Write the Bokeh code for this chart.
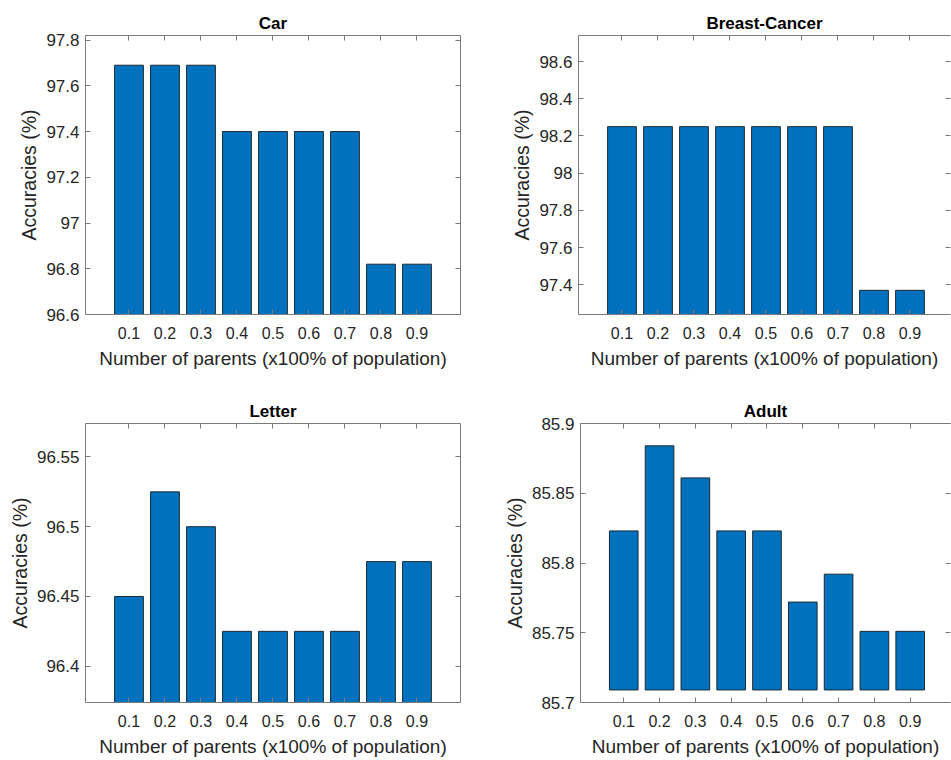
from bokeh.plotting import figure
from bokeh.models import Range1d, FixedTicker, LinearAxis, CustomJSTickFormatter
from bokeh.layouts import column, row
from bokeh.embed import file_html
from bokeh.resources import INLINE

# ---- data ----
parents = [0.1, 0.2, 0.3, 0.4, 0.5, 0.6, 0.7, 0.8, 0.9]
x_label = "Number of parents (x100% of population)"
y_label = "Accuracies (%)"

car_title = "Car"
car_acc = [97.69, 97.69, 97.69, 97.40, 97.40, 97.40, 97.40, 96.82, 96.82]
car_yrange = [96.6, 97.82]
car_yticks = [96.6, 96.8, 97.0, 97.2, 97.4, 97.6, 97.8]
car_base = 96.6

bc_title = "Breast-Cancer"
bc_acc = [98.25, 98.25, 98.25, 98.25, 98.25, 98.25, 98.25, 97.37, 97.37]
bc_yrange = [97.24, 98.74]
bc_yticks = [97.4, 97.6, 97.8, 98.0, 98.2, 98.4, 98.6]
bc_base = 97.24

letter_title = "Letter"
letter_acc = [96.45, 96.525, 96.50, 96.425, 96.425, 96.425, 96.425, 96.475, 96.475]
letter_yrange = [96.374, 96.574]
letter_yticks = [96.4, 96.45, 96.5, 96.55]
letter_base = 96.374

adult_title = "Adult"
adult_acc = [85.823, 85.884, 85.861, 85.823, 85.823, 85.772, 85.792, 85.751, 85.751]
adult_yrange = [85.7, 85.9]
adult_yticks = [85.7, 85.75, 85.8, 85.85, 85.9]
adult_base = 85.709

# ---- style ----
FONT = "Liberation Sans"
BOX = "#7a7a7a"
TXT = "#262626"
BAR = "#0072BD"
X_START = -0.0208
PX_PER_UNIT = 360.0

fmt_code = "return Number(tick.toFixed(3)).toString();"
blank_code = "return '';"


def make(title, acc, yrange, yticks, base, width, height, mb, right_col):
    left, right, top, bottom = mb
    frame_w = width - left - right
    x_end = X_START + frame_w / PX_PER_UNIT
    p = figure(width=width, height=height,
               x_range=Range1d(X_START, x_end), y_range=Range1d(*yrange),
               output_backend="svg", toolbar_location=None, tools="",
               min_border_left=left, min_border_right=right,
               min_border_top=top, min_border_bottom=bottom,
               x_axis_label=x_label, y_axis_label=y_label)
    p.outline_line_color = None
    p.xgrid.visible = False
    p.ygrid.visible = False
    p.background_fill_color = "white"
    p.border_fill_color = "white"

    p.vbar(x=parents, top=acc, bottom=base, width=0.08,
           fill_color=BAR, line_color="#1e2a33", line_width=1)

    # bottom axis
    xa = p.xaxis[0]
    xa.ticker = FixedTicker(ticks=parents)
    xa.formatter = CustomJSTickFormatter(code=fmt_code)
    xa.major_label_text_font = FONT
    xa.major_label_text_font_size = "16px"
    xa.major_label_text_color = TXT
    xa.major_label_standoff = 12
    xa.axis_label_text_font = FONT
    xa.axis_label_text_font_size = "19px"
    xa.axis_label_text_font_style = "normal"
    xa.axis_label_text_color = TXT
    xa.axis_label_standoff = 6
    # left axis
    ya = p.yaxis[0]
    ya.ticker = FixedTicker(ticks=yticks)
    ya.formatter = CustomJSTickFormatter(code=fmt_code)
    ya.major_label_text_font = FONT
    ya.major_label_text_font_size = "17px"
    ya.major_label_text_color = TXT
    ya.major_label_standoff = 6
    ya.axis_label_text_font = FONT
    ya.axis_label_text_font_size = "19.5px"
    ya.axis_label_text_font_style = "normal"
    ya.axis_label_text_color = TXT
    ya.axis_label_standoff = 3

    for ax in (xa, ya):
        ax.axis_line_color = BOX
        ax.axis_line_width = 1
        ax.major_tick_line_color = BOX
        ax.major_tick_in = 5
        ax.major_tick_out = 0
        ax.minor_tick_line_color = None

    top_ax = LinearAxis(ticker=FixedTicker(ticks=parents),
                        formatter=CustomJSTickFormatter(code=blank_code),
                        major_label_text_font_size="1px", major_label_standoff=0,
                        major_tick_in=5, major_tick_out=0,
                        minor_tick_line_color=None,
                        axis_line_color=BOX, major_tick_line_color=BOX)
    p.add_layout(top_ax, "above")
    right_ax = LinearAxis(ticker=FixedTicker(ticks=yticks),
                          formatter=CustomJSTickFormatter(code=blank_code),
                          major_label_text_font_size="1px", major_label_standoff=0,
                          major_tick_in=5, major_tick_out=0,
                          minor_tick_line_color=None,
                          axis_line_color=None if right_col else BOX,
                          major_tick_line_color=BOX)
    p.add_layout(right_ax, "right")

    p.title.text = title
    p.title.align = "center"
    p.title.text_font = FONT
    p.title.text_font_size = "17px"
    p.title.text_font_style = "bold"
    p.title.text_color = "black"
    p.title.standoff = 6
    return p


LW, RW = 500, 451
TH, BH = 380, 380

p1 = make(car_title, car_acc, car_yrange, car_yticks, car_base, LW, TH, (85, 40, 35, 66), False)
p2 = make(bc_title, bc_acc, bc_yrange, bc_yticks, bc_base, RW, TH, (78, 1, 35, 66), True)
p3 = make(letter_title, letter_acc, letter_yrange, letter_yticks, letter_base, LW, BH, (85, 40, 43, 58), False)
p4 = make(adult_title, adult_acc, adult_yrange, adult_yticks, adult_base, RW, BH, (78, 1, 43, 58), True)

layout = column(row(p1, p2), row(p3, p4))

open("out.html", "w").write(file_html(layout, INLINE))
